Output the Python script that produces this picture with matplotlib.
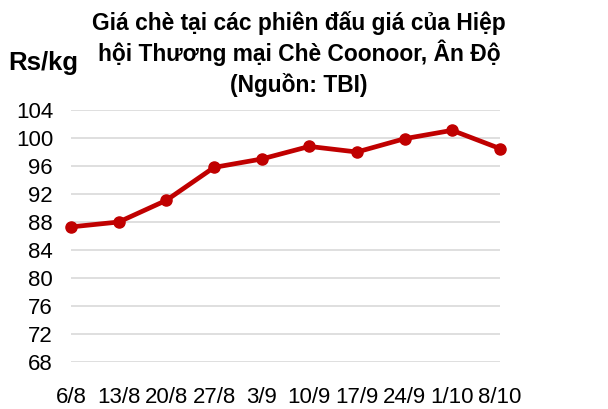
import matplotlib
matplotlib.use("Agg")
import matplotlib.pyplot as plt

# data
dates = ["6/8", "13/8", "20/8", "27/8", "3/9", "10/9", "17/9", "24/9", "1/10", "8/10"]
prices = [87.3, 88.0, 91.1, 95.8, 97.0, 98.8, 98.0, 99.9, 101.1, 98.5]
yticks = [68, 72, 76, 80, 84, 88, 92, 96, 100, 104]
title_lines = ["Giá chè tại các phiên đấu giá của Hiệp",
               "hội Thương mại Chè Coonoor, Ân Độ",
               "(Nguồn: TBI)"]

plt.rcParams["font.family"] = ["Liberation Sans", "DejaVu Sans"]

W, H = 608, 409
fig = plt.figure(figsize=(W / 100, H / 100), dpi=100)
ax = fig.add_axes([0.117, 0.115, 0.705, 0.616])

x = list(range(len(dates)))
ax.plot(x, prices, color="#C00000", lw=3.4, marker="o", ms=8, clip_on=False, zorder=3)

ax.set_xlim(0, len(dates) - 1)
ax.set_ylim(68, 104)
ax.set_yticks(yticks)
ax.set_xticks(x)
ax.set_xticklabels(dates)
ax.tick_params(axis="both", length=0, labelsize=16, colors="black")
ax.tick_params(axis="x", pad=18)
ax.tick_params(axis="y", pad=13)
ax.grid(axis="y", color="#D9D9D9", lw=1.2)
ax.set_axisbelow(True)
for s in ax.spines.values():
    s.set_visible(False)

# title, one line at a time
for line, yb in zip(title_lines, [30, 61, 92]):
    fig.text(299 / W, 1 - yb / H, line, ha="center", va="baseline",
             fontsize=16.4, fontweight="bold")
fig.text(8 / W, 1 - 70 / H, "Rs/kg", ha="left", va="baseline", fontsize=18.5, fontweight="bold")

fig.savefig("out.png", dpi=100)
